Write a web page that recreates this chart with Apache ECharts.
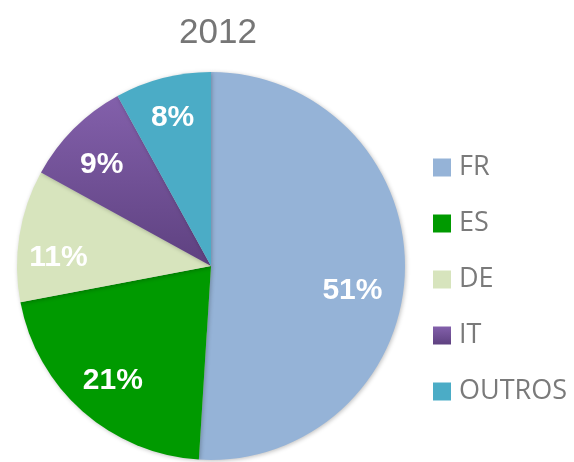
<!DOCTYPE html>
<html>
<head>
<meta charset="utf-8">
<script src="https://cdn.jsdelivr.net/npm/echarts@6/dist/echarts.min.js"></script>
<style>
  html, body { margin: 0; padding: 0; background: #fff; }
  #main { width: 574px; height: 462px; }
</style>
</head>
<body>
<div id="main"></div>
<script>
var categories = ['FR', 'ES', 'DE', 'IT', 'OUTROS'];
var shares = [51, 21, 11, 9, 8];
var colors = [
    '#95b3d7',
    '#009a00',
    '#d7e4bd',
    new echarts.graphic.LinearGradient(0, 0, 0, 1, [
        { offset: 0, color: '#8360ab' },
        { offset: 1, color: '#5e4180' }
    ]),
    '#4bacc6'
];
// 标签微调，让位置接近原图
var labelNudge = [[-13, 20], [4, -1], [0, 16], [0, 8], [0, 1]];

var myChart = echarts.init(document.getElementById('main'));

var pieData = categories.map(function (name, i) {
    return { name: name, value: shares[i], itemStyle: { color: colors[i] } };
});
var labelData = categories.map(function (name, i) {
    return { name: name, value: shares[i], label: { offset: labelNudge[i] } };
});

var option = {
    title: {
        text: '2012',
        left: 213,
        top: 11,
        textAlign: 'center',
        textStyle: {
            fontFamily: 'Liberation Sans, Arial, sans-serif',
            fontSize: 35,
            fontWeight: 'normal',
            color: '#767676'
        }
    },
    legend: {
        orient: 'vertical',
        left: 428,
        top: 149,
        itemWidth: 18,
        itemHeight: 18,
        itemGap: 29,
        icon: 'rect',
        data: categories,
        textStyle: {
            fontFamily: 'Open Sans, sans-serif',
            fontSize: 27,
            color: '#7a7a7a',
            padding: [0, 0, 0, 3]
        }
    },
    series: [
        {
            name: '2012',
            type: 'pie',
            center: [211, 266],
            radius: 194,
            startAngle: 90,
            clockwise: true,
            silent: true,
            label: { show: false },
            labelLine: { show: false },
            itemStyle: {
                shadowBlur: 4,
                shadowColor: 'rgba(0,0,0,0.25)',
                shadowOffsetX: 1,
                shadowOffsetY: 1
            },
            data: pieData
        },
        {
            // 透明的一层只用来放百分比标签
            name: 'labels',
            type: 'pie',
            center: [211, 266],
            radius: [109, 194],
            startAngle: 90,
            clockwise: true,
            silent: true,
            legendHoverLink: false,
            itemStyle: { color: 'rgba(0,0,0,0)' },
            label: {
                show: true,
                position: 'inside',
                formatter: '{c}%',
                fontFamily: 'Liberation Sans, Arial, sans-serif',
                fontSize: 30,
                fontWeight: 'bold',
                color: '#ffffff'
            },
            labelLine: { show: false },
            data: labelData
        }
    ]
};
myChart.setOption(option);
</script>
</body>
</html>
